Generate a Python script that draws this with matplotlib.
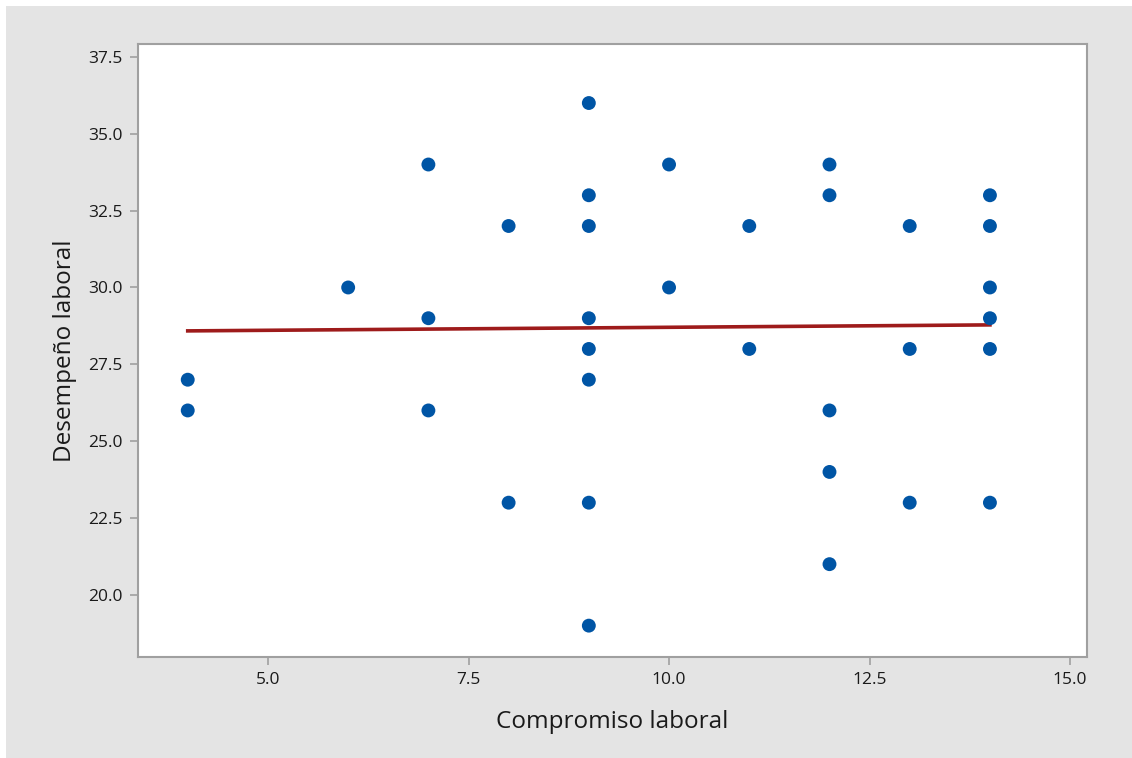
import numpy as np
import matplotlib
matplotlib.use("Agg")
import matplotlib.pyplot as plt
from matplotlib.patches import Rectangle

# Compromiso laboral (x) vs Desempeño laboral (y)
compromiso = [4, 4,
              6,
              7, 7, 7,
              8, 8,
              9, 9, 9, 9, 9, 9, 9, 9,
              10, 10,
              11, 11,
              12, 12, 12, 12, 12,
              13, 13, 13,
              14, 14, 14, 14, 14, 14]
desempeno = [27, 26,
             30,
             34, 29, 26,
             32, 23,
             36, 33, 32, 29, 28, 27, 23, 19,
             34, 30,
             32, 28,
             34, 33, 26, 24, 21,
             32, 28, 23,
             33, 32, 30, 29, 28, 23]

# fitted line
fit_intercept = 28.51
fit_slope = 0.0195

xticks = [5.0, 7.5, 10.0, 12.5, 15.0]
yticks = [20.0, 22.5, 25.0, 27.5, 30.0, 32.5, 35.0, 37.5]

plt.rcParams["font.family"] = ["Open Sans", "DejaVu Sans"]

fig = plt.figure(figsize=(11.32, 7.58), dpi=100)
fig.patch.set_facecolor("#e4e4e4")
# thin white margin at top and left
fig.patches.append(Rectangle((0, 1 - 6 / 758), 1, 6 / 758, transform=fig.transFigure,
                             facecolor="white", edgecolor="none", zorder=-10))
fig.patches.append(Rectangle((0, 0), 6 / 1132, 1, transform=fig.transFigure,
                             facecolor="white", edgecolor="none", zorder=-10))

ax = fig.add_axes([138 / 1132, 1 - 657 / 758, 949 / 1132, 613 / 758])
ax.set_facecolor("white")

xs = np.array([min(compromiso), max(compromiso)])
ax.plot(xs, fit_intercept + fit_slope * xs, color="#9e1b1b", lw=2.6, zorder=2)

ax.scatter(compromiso, desempeno, s=100, color="#0055a5",
           edgecolors="none", zorder=3)

ax.set_xlim(3.38, 15.21)
ax.set_ylim(17.98, 37.92)
ax.set_xticks(xticks)
ax.set_yticks(yticks)
ax.set_xticklabels([f"{t:.1f}" for t in xticks])
ax.set_yticklabels([f"{t:.1f}" for t in yticks])

for s in ax.spines.values():
    s.set_color("#a0a0a0")
    s.set_linewidth(1.5)
ax.tick_params(direction="out", length=6, width=1.2, color="#a0a0a0",
               labelsize=12.5, labelcolor="#1a1a1a", pad=5)

ax.set_xlabel("Compromiso laboral", fontsize=17.5, color="#1a1a1a", labelpad=16)
ax.set_ylabel("Desempeño laboral", fontsize=17.5, color="#1a1a1a", labelpad=8)

fig.savefig("out.png", dpi=100, facecolor=fig.get_facecolor())
